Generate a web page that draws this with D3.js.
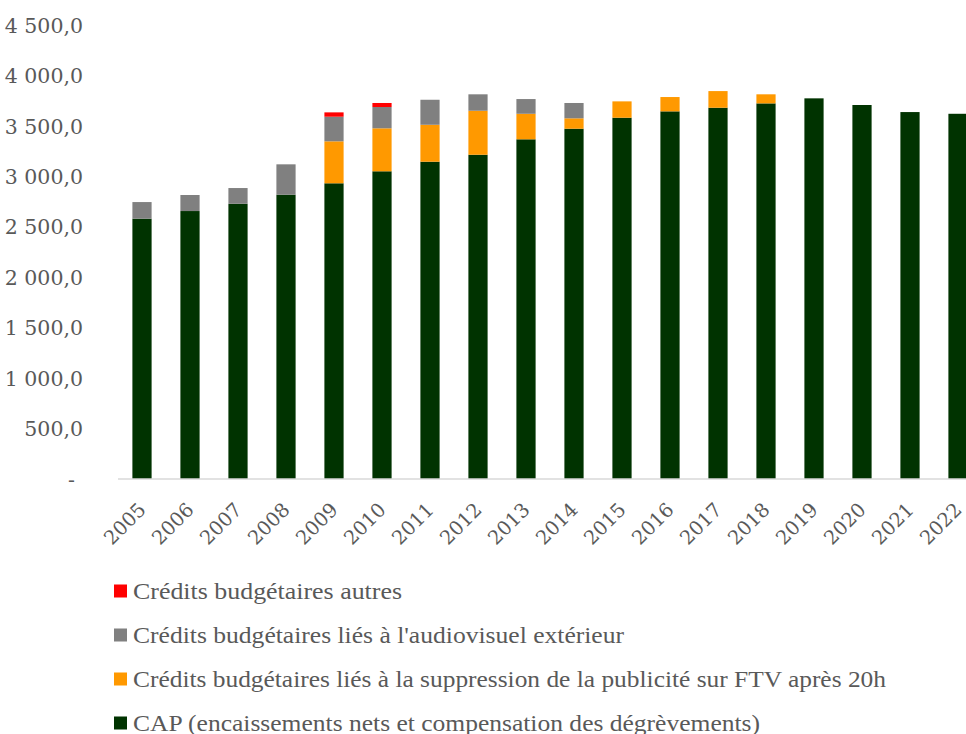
<!DOCTYPE html>
<html>
<head>
<meta charset="utf-8">
<script src="https://cdn.jsdelivr.net/npm/d3@7"></script>
<style>
  html, body { margin: 0; padding: 0; background: #fff; }
  svg { display: block; }
</style>
</head>
<body>
<div id="chart"></div>
<script>
// Data (millions d'euros)
const years = ['2005','2006','2007','2008','2009','2010','2011','2012','2013',
               '2014','2015','2016','2017','2018','2019','2020','2021','2022'];

const cap      = [2580, 2656, 2728, 2818, 2931, 3050, 3145, 3214, 3367,
                  3472, 3581, 3644, 3680, 3723, 3773, 3707, 3637, 3620];
const pubFtv   = [0, 0, 0, 0, 416, 426, 366, 436, 253,
                  103, 162, 142, 165, 90, 0, 0, 0, 0];
const audioExt = [165, 159, 156, 301, 244, 211, 248, 163, 146,
                  152, 0, 0, 0, 0, 0, 0, 0, 0];
const autres   = [0, 0, 0, 0, 43, 40, 0, 0, 0,
                  0, 0, 0, 0, 0, 0, 0, 0, 0];

const yTicks = [0, 500, 1000, 1500, 2000, 2500, 3000, 3500, 4000, 4500];

// stack order bottom -> top
const series = [
  { key: 'cap',   label: 'CAP (encaissements nets et compensation des dégrèvements)', values: cap,      color: '#003300', legendW: 627 },
  { key: 'pub',   label: 'Crédits budgétaires liés à la suppression de la publicité sur FTV après 20h', values: pubFtv, color: '#FF9900', legendW: 753 },
  { key: 'ext',   label: "Crédits budgétaires liés à l'audiovisuel extérieur", values: audioExt, color: '#808080', legendW: 491 },
  { key: 'autre', label: 'Crédits budgétaires autres', values: autres, color: '#FF0000', legendW: 269 }
];

const width = 966, height = 734;
const textColor = '#595959';

const svg = d3.select('#chart').append('svg')
  .attr('width', width)
  .attr('height', height);

const x = d3.scaleBand()
  .domain(years)
  .range([118, 982])
  .paddingInner(0.6)
  .paddingOuter(0.3);

const y = d3.scaleLinear()
  .domain([0, 4500])
  .range([479, 25]);

const fr = d3.formatLocale({ decimal: ',', thousands: '\u00a0', grouping: [3], currency: ['', ' €'] });
const fmt = fr.format(',.1f');

// stacked data
const rows = years.map((yr, i) => {
  const r = { year: yr };
  series.forEach(s => { r[s.key] = s.values[i]; });
  return r;
});
const stacked = d3.stack().keys(series.map(s => s.key))(rows);

// bars
svg.append('g')
  .selectAll('g')
  .data(stacked)
  .join('g')
  .attr('fill', (d, i) => series[i].color)
  .selectAll('rect')
  .data(d => d.filter(p => p[1] - p[0] > 0))
  .join('rect')
  .attr('x', d => x(d.data.year))
  .attr('width', x.bandwidth())
  .attr('y', d => y(d[1]))
  .attr('height', d => y(d[0]) - y(d[1]));

// baseline
svg.append('line')
  .attr('x1', 118).attr('x2', width)
  .attr('y1', y(0)).attr('y2', y(0))
  .attr('stroke', '#d9d9d9')
  .attr('stroke-width', 1.5);

// y axis labels (no axis line)
const yAxis = d3.axisLeft(y)
  .tickValues(yTicks)
  .tickSize(0)
  .tickPadding(0)
  .tickFormat(d => d === 0 ? '-' : fmt(d));

const yg = svg.append('g')
  .attr('transform', 'translate(83,0)')
  .call(yAxis);
yg.select('.domain').remove();
yg.selectAll('text')
  .attr('fill', textColor)
  .style('font-family', "'DejaVu Serif', serif")
  .style('font-size', '20.5px')
  .attr('dy', '0.35em')
  .attr('dx', d => d === 0 ? -8 : 0);

// x axis labels rotated
const xAxis = d3.axisBottom(x).tickSize(0).tickPadding(0);
const xg = svg.append('g')
  .attr('transform', `translate(0,${y(0)})`)
  .call(xAxis);
xg.select('.domain').remove();
xg.selectAll('text')
  .attr('fill', textColor)
  .style('font-family', "'DejaVu Serif', serif")
  .style('font-size', '19.5px')
  .attr('text-anchor', 'end')
  .attr('y', 0)
  .attr('dy', 0)
  .attr('transform', 'translate(5,32) rotate(-45)');

// legend (top entry = top of stack)
const legendItems = series.slice().reverse();
const legend = svg.append('g')
  .selectAll('g')
  .data(legendItems)
  .join('g')
  .attr('transform', (d, i) => `translate(114,${591 + i * 44})`);

legend.append('rect')
  .attr('x', 0).attr('y', -6.5)
  .attr('width', 13).attr('height', 13)
  .attr('fill', d => d.color);

legend.append('text')
  .attr('x', 19)
  .attr('dy', '0.35em')
  .attr('fill', textColor)
  .style('font-family', "'Liberation Serif', serif")
  .style('font-size', '24px')
  .attr('textLength', d => d.legendW)
  .attr('lengthAdjust', 'spacingAndGlyphs')
  .text(d => d.label);
</script>
</body>
</html>
